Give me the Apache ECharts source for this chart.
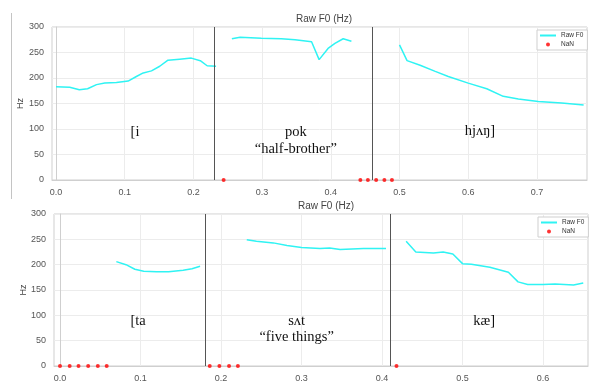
<!DOCTYPE html>
<html>
<head>
<meta charset="utf-8">
<script src="https://cdn.jsdelivr.net/npm/echarts@6/dist/echarts.min.js"></script>
<style>
  html, body { margin: 0; padding: 0; background: #fff; }
  #chart { width: 589px; height: 383px; }
</style>
</head>
<body>
<div id="chart"></div>
<script>
// ---- Utterance 1: [i pok hjʌŋ] "half-brother" ----
const u1SegA_t  = [0.000, 0.020, 0.034, 0.046, 0.059, 0.071, 0.088, 0.105, 0.117, 0.127, 0.139, 0.151, 0.163, 0.180, 0.197, 0.210, 0.220, 0.233];
const u1SegA_f0 = [183, 182, 177, 179, 187, 190, 191, 194, 203, 210, 214, 223, 235, 237, 239, 234, 224, 223];
const u1SegB_t  = [0.256, 0.268, 0.299, 0.328, 0.348, 0.372, 0.383, 0.396, 0.406, 0.418, 0.430];
const u1SegB_f0 = [277, 280, 278, 277, 275, 271, 236, 258, 268, 277, 272];
const u1SegC_t  = [0.500, 0.511, 0.530, 0.552, 0.571, 0.600, 0.627, 0.651, 0.673, 0.702, 0.736, 0.768];
const u1SegC_f0 = [265, 234, 225, 213, 203, 190, 179, 164, 159, 154, 151, 147];
const u1NaN_t   = [0.244, 0.443, 0.454, 0.466, 0.478, 0.489];
const u1Bounds  = [0.235, 0.460];
const u1Words   = ['[i', 'pok\n“half-brother”', 'hjʌŋ]'];

// ---- Utterance 2: [ta sʌt kæ] "five things" ----
const u2SegA_t  = [0.070, 0.082, 0.093, 0.104, 0.120, 0.135, 0.153, 0.164, 0.174];
const u2SegA_f0 = [206, 200, 191, 187, 186, 186, 189, 192, 197];
const u2SegB_t  = [0.232, 0.244, 0.265, 0.282, 0.300, 0.323, 0.335, 0.348, 0.377, 0.405];
const u2SegB_f0 = [249, 246, 243, 238, 234, 232, 233, 230, 232, 232];
const u2SegC_t  = [0.430, 0.442, 0.464, 0.476, 0.488, 0.500, 0.511, 0.534, 0.557, 0.569, 0.581, 0.600, 0.615, 0.638, 0.650];
const u2SegC_f0 = [246, 225, 223, 225, 221, 202, 201, 195, 185, 166, 161, 161, 162, 160, 164];
const u2NaN_t   = [0.000, 0.012, 0.023, 0.035, 0.047, 0.058, 0.186, 0.198, 0.210, 0.221, 0.418];
const u2Bounds  = [0.1755, 0.4058];
const u2Words   = ['[ta', 'sʌt\n“five things”', 'kæ]'];

// axis ticks
const u1XTicks = [0, 0.1, 0.2, 0.3, 0.4, 0.5, 0.6, 0.7];
const u2XTicks = [0, 0.1, 0.2, 0.3, 0.4, 0.5, 0.6];

const title = 'Raw F0 (Hz)';
const F0_NAME = 'Raw F0';
const NAN_NAME = 'NaN';

const CYAN = '#2ff3f3';
const SANS = 'Liberation Sans, Arial, sans-serif';
const SERIF = 'Liberation Serif, Times New Roman, serif';

const pairs = (ts, vs) => ts.map((t, i) => [t, vs[i]]);

function xAxisFor(gridIndex, min, max, ticks) {
  return {
    type: 'value', gridIndex, min, max,
    axisLine: { show: true, lineStyle: { color: '#cfcfcf' } },
    axisTick: { show: false, customValues: ticks },
    axisLabel: {
      customValues: ticks, color: '#555', fontSize: 9, fontFamily: SANS, margin: 8,
      formatter: v => v.toFixed(1)
    },
    splitLine: { show: true, lineStyle: { color: '#ececec' } }
  };
}
function yAxisFor(gridIndex, nameGap) {
  return {
    type: 'value', gridIndex, min: 0, max: 300, interval: 50,
    name: 'Hz', nameLocation: 'middle', nameGap, nameMoveOverlap: false,
    nameTextStyle: { color: '#444', fontSize: 9, fontFamily: SANS },
    axisLine: { show: true, lineStyle: { color: '#cfcfcf' } },
    axisTick: { show: false },
    axisLabel: { color: '#555', fontSize: 9, fontFamily: SANS, margin: 8 },
    splitLine: { show: true, lineStyle: { color: '#ececec' } }
  };
}
function f0Series(idx, data) {
  return {
    name: F0_NAME, type: 'line', xAxisIndex: idx, yAxisIndex: idx,
    data, symbol: 'none', showSymbol: false,
    lineStyle: { color: CYAN, width: 1.5 }, itemStyle: { color: CYAN },
    z: 3, silent: true
  };
}
function nanSeries(idx, times) {
  return {
    name: NAN_NAME, type: 'scatter', xAxisIndex: idx, yAxisIndex: idx,
    data: times.map(t => [t, 0]), symbol: 'circle', symbolSize: 4,
    itemStyle: { color: '#ff0000' }, clip: false, z: 4, silent: true
  };
}
// Word boundaries (vertical lines) and word labels placed at data coordinates
function wordSeries(idx, bounds, words, coords, lineHeight) {
  return {
    type: 'line', xAxisIndex: idx, yAxisIndex: idx, data: [], silent: true,
    markLine: {
      silent: true, symbol: 'none', label: { show: false },
      lineStyle: { color: '#555', width: 1, type: 'solid' },
      data: bounds.map(b => ({ xAxis: b }))
    },
    markPoint: {
      silent: true, symbol: 'circle', symbolSize: 0,
      label: {
        show: true, position: 'inside', color: '#111', fontSize: 14.5,
        fontFamily: SERIF, lineHeight, align: 'center'
      },
      data: words.map((w, i) => ({ coord: coords[i], value: w, label: { formatter: w } }))
    }
  };
}
function legendFor(left, top) {
  return {
    left, top, orient: 'vertical',
    data: [{ name: F0_NAME, itemStyle: { opacity: 0 } }, { name: NAN_NAME }],
    backgroundColor: '#fff', borderColor: '#cfcfcf', borderWidth: 1,
    padding: [2, 4, 2, 2], itemGap: 2, itemWidth: 16, itemHeight: 4,
    textStyle: { fontSize: 6.5, color: '#333', fontFamily: SANS },
    selectedMode: false
  };
}

const chart = echarts.init(document.getElementById('chart'), null, { renderer: 'canvas' });
chart.setOption({
  animation: false,
  backgroundColor: '#fff',
  title: [
    { text: title, left: 319, top: 9, textAlign: 'center',
      textStyle: { fontSize: 10, fontWeight: 'normal', color: '#444', fontFamily: SANS } },
    { text: title, left: 321, top: 196.5, textAlign: 'center',
      textStyle: { fontSize: 10, fontWeight: 'normal', color: '#444', fontFamily: SANS } }
  ],
  legend: [legendFor(537, 30), legendFor(538, 217)],
  grid: [
    { left: 52, top: 27, width: 535, height: 153, show: true, borderColor: '#cfcfcf', borderWidth: 1 },
    { left: 54, top: 214, width: 534, height: 153, show: true, borderColor: '#cfcfcf', borderWidth: 1 }
  ],
  xAxis: [
    xAxisFor(0, -0.0058, 0.7729, u1XTicks),
    xAxisFor(1, -0.00745, 0.6559, u2XTicks)
  ],
  yAxis: [yAxisFor(0, 27), yAxisFor(1, 25.5)],
  graphic: [
    { type: 'line', shape: { x1: 11.5, y1: 13, x2: 11.5, y2: 199 },
      style: { stroke: '#c4c4c4', lineWidth: 1 }, silent: true }
  ],
  series: [
    f0Series(0, pairs(u1SegA_t, u1SegA_f0)),
    f0Series(0, pairs(u1SegB_t, u1SegB_f0)),
    f0Series(0, pairs(u1SegC_t, u1SegC_f0)),
    nanSeries(0, u1NaN_t),
    wordSeries(0, u1Bounds, u1Words, [[0.115, 93], [0.349, 78], [0.617, 96]], 17),
    f0Series(1, pairs(u2SegA_t, u2SegA_f0)),
    f0Series(1, pairs(u2SegB_t, u2SegB_f0)),
    f0Series(1, pairs(u2SegC_t, u2SegC_f0)),
    nanSeries(1, u2NaN_t),
    wordSeries(1, u2Bounds, u2Words, [[0.097, 88], [0.294, 72], [0.527, 88]], 16)
  ]
});
</script>
</body>
</html>
